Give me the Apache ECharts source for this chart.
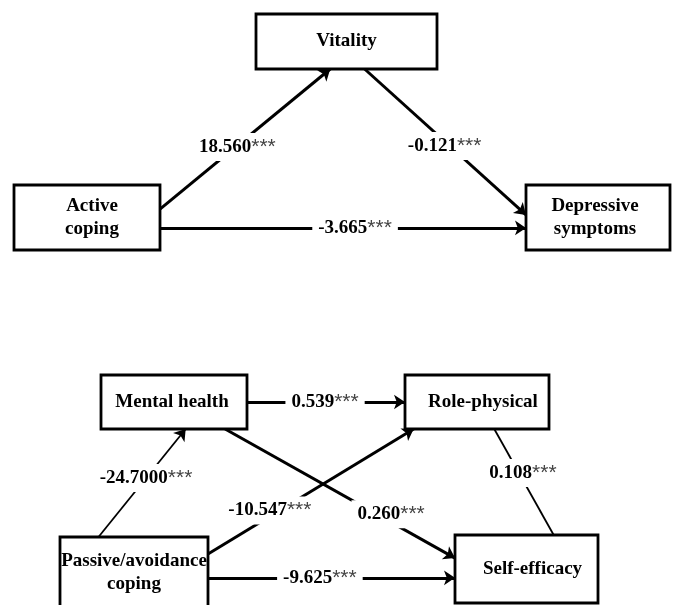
<!DOCTYPE html>
<html><head><meta charset="utf-8">
<script src="https://cdn.jsdelivr.net/npm/echarts@6/dist/echarts.min.js"></script>
<style>html,body{margin:0;padding:0;background:#fff}#c{width:676px;height:605px}</style>
</head><body><div id="c"></div>
<script>
// ---- data ----
const nodeIds   = ['V', 'AC', 'DS', 'MH', 'RP', 'PAC', 'SE'];
const nodeNames = ['Vitality', 'Active\ncoping', 'Depressive\nsymptoms', 'Mental health',
                   'Role-physical', 'Passive/avoidance\ncoping', 'Self-efficacy'];
const pathFrom  = ['AC', 'V', 'AC', 'MH', 'PAC', 'PAC', 'MH', 'RP', 'PAC'];
const pathTo    = ['V', 'DS', 'DS', 'RP', 'MH', 'RP', 'SE', 'SE', 'SE'];
const coefValues = ['18.560', '-0.121', '-3.665', '0.539', '-24.7000', '-10.547', '0.260', '0.108', '-9.625'];
const sigMarks   = ['***', '***', '***', '***', '***', '***', '***', '***', '***'];

// ---- layout (diagram geometry, pixels) ----
const nodeBox = {            // x0, y0, x1, y1
  V:   [256, 14, 437, 69],
  AC:  [14, 185, 160, 250],
  DS:  [526, 185, 670, 250],
  MH:  [101, 375, 247, 429],
  RP:  [405, 375, 549, 429],
  PAC: [60, 537, 208, 608],
  SE:  [455, 535, 598, 603]
};
const nodeTextShift = { V: 0, AC: 5, DS: -3, MH: -2, RP: 6, PAC: 0, SE: 6 };
// fromSide, fromFrac, toSide, toFrac, lineWidth, arrow, labelT, labelDx, labelDy
const edgeGeom = [
  ['r', 0.37, 'b', 0.41, 3,   true,  0.443,  2,  0],
  ['b', 0.60, 'l', 0.46, 3,   true,  0.527, -5,  0],
  ['r', 0.66, 'l', 0.66, 3,   true,  0.533,  0,  0],
  ['r', 0.50, 'l', 0.50, 3,   true,  0.494,  0,  0],
  ['t', 0.26, 'b', 0.58, 1.8, true,  0.546,  0,  0],
  ['r', 0.24, 'b', 0.06, 3,   true,  0.301,  0, -6],
  ['b', 0.85, 'l', 0.34, 3,   true,  0.722,  0, -8],
  ['b', 0.62, 't', 0.69, 1.8, false, 0.415,  4,  0],
  ['r', 0.58, 'l', 0.63, 3,   true,  0.453,  0,  0]
];

function anchor(id, side, f) {
  const [x0, y0, x1, y1] = nodeBox[id];
  if (side === 'r') return [x1, y0 + f * (y1 - y0)];
  if (side === 'l') return [x0, y0 + f * (y1 - y0)];
  if (side === 't') return [x0 + f * (x1 - x0), y0];
  return [x0 + f * (x1 - x0), y1];
}

const nodeData = nodeIds.map((id, i) => nodeBox[id].concat([i]));

const edgeSeries = [];
const labelData = [];
pathFrom.forEach((from, i) => {
  const g = edgeGeom[i];
  const a = anchor(from, g[0], g[1]);
  const b = anchor(pathTo[i], g[2], g[3]);
  edgeSeries.push({
    type: 'lines', coordinateSystem: 'cartesian2d', z: 1,
    symbol: ['none', g[5] ? 'arrow' : 'none'], symbolSize: [8, 11],
    lineStyle: { color: '#000', width: g[4], opacity: 1, curveness: 0 },
    silent: true,
    data: [{ coords: [a, b] }]
  });
  const t = g[6];
  labelData.push([a[0] + t * (b[0] - a[0]) + g[7], a[1] + t * (b[1] - a[1]) + g[8], i]);
});

const chart = echarts.init(document.getElementById('c'), null, { renderer: 'canvas' });
chart.setOption({
  backgroundColor: '#fff',
  animation: false,
  grid: { left: 0, right: 0, top: 0, bottom: 0 },
  xAxis: { type: 'value', min: 0, max: 676, show: false },
  yAxis: { type: 'value', min: 0, max: 605, inverse: true, show: false },
  series: edgeSeries.concat([
    {
      type: 'custom', z: 3, silent: true, clip: false,
      encode: { x: [0, 2], y: [1, 3] },
      data: nodeData,
      renderItem: function (params, api) {
        const p0 = api.coord([api.value(0), api.value(1)]);
        const p1 = api.coord([api.value(2), api.value(3)]);
        const idx = api.value(4);
        return {
          type: 'group',
          children: [
            { type: 'rect',
              shape: { x: p0[0], y: p0[1], width: p1[0] - p0[0], height: p1[1] - p0[1] },
              style: { fill: '#fff', stroke: '#000', lineWidth: 2.8 } },
            { type: 'text',
              x: (p0[0] + p1[0]) / 2 + nodeTextShift[nodeIds[idx]], y: (p0[1] + p1[1]) / 2,
              style: { text: nodeNames[idx], fill: '#000', align: 'center', verticalAlign: 'middle',
                       font: 'bold 19px "Liberation Serif"', lineHeight: 23 } }
          ]
        };
      }
    },
    {
      type: 'custom', z: 4, silent: true, clip: false,
      encode: { x: 0, y: 1 },
      data: labelData,
      renderItem: function (params, api) {
        const p = api.coord([api.value(0), api.value(1)]);
        const i = api.value(2);
        return {
          type: 'text', x: p[0], y: p[1],
          style: {
            text: '{n|' + coefValues[i] + '}{s|' + sigMarks[i] + '}',
            align: 'center', verticalAlign: 'middle',
            backgroundColor: '#fff', padding: [3, 6],
            rich: {
              n: { fontFamily: 'Liberation Serif', fontWeight: 'bold', fontSize: 19, fill: '#000', lineHeight: 22 },
              s: { fontFamily: 'Liberation Sans', fontSize: 21, fill: '#444', lineHeight: 22 }
            }
          }
        };
      }
    }
  ])
});
</script>
</body></html>
